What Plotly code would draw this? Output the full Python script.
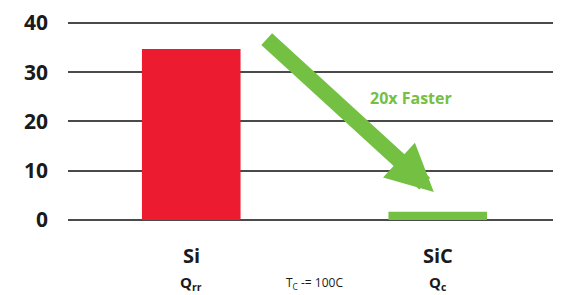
import plotly.graph_objects as go

categories = ["Si", "SiC"]
charge_values = [34.7, 1.7]
bar_colors = ["#ED1B2F", "#74C043"]
y_ticks = [0, 10, 20, 30, 40]
sub_labels = ["Q<sub>rr</sub>", "Q<sub>c</sub>"]
condition_label = "T<sub>C</sub> -= 100C"
arrow_label = "20x Faster"

FONT = "Open Sans"
DARK = "#1a1a1a"
GREEN = "#74C043"

fig = go.Figure()
fig.add_trace(go.Bar(
    x=categories, y=charge_values, marker=dict(color=bar_colors, line=dict(width=0)),
    width=0.4, showlegend=False, hoverinfo="skip",
))

annotations = []
for cat, sub in zip(categories, sub_labels):
    annotations.append(dict(x=cat, y=0, xref="x", yref="y", text=f"<b>{cat}</b>",
                            showarrow=False, yanchor="middle", yshift=-35,
                            font=dict(family=FONT, size=20, color=DARK)))
    annotations.append(dict(x=cat, y=0, xref="x", yref="y", text=f"<b>{sub}</b>",
                            showarrow=False, yanchor="middle", yshift=-63,
                            font=dict(family=FONT, size=15, color=DARK)))
annotations.append(dict(x=0.5, y=0, xref="x", yref="y", text=condition_label,
                        showarrow=False, yanchor="middle", yshift=-63,
                        font=dict(family=FONT, size=12, color=DARK)))
# arrow
annotations.append(dict(x=0.984, y=5.7, xref="x", yref="y",
                        ax=0.3, ay=37, axref="x", ayref="y",
                        text="", showarrow=True, arrowhead=2, arrowsize=0.59,
                        arrowwidth=16, arrowcolor=GREEN, standoff=0, startstandoff=0))
annotations.append(dict(x=0.89, y=24.8, xref="x", yref="y", text=f"<b>{arrow_label}</b>",
                        showarrow=False, font=dict(family=FONT, size=16, color=GREEN)))

fig.update_layout(
    width=553, height=287,
    margin=dict(l=60, r=0, t=10, b=75),
    paper_bgcolor="white", plot_bgcolor="white",
    bargap=0.6,
    annotations=annotations,
    xaxis=dict(type="category", range=[-0.5, 1.5], showticklabels=False, showgrid=False,
               zeroline=False, showline=False, ticks=""),
    yaxis=dict(range=[0, 40.4], tickvals=y_ticks, ticktext=[f"<b>{v}</b>" for v in y_ticks],
               showgrid=True, gridcolor="#4a4a4a", gridwidth=1.5,
               zeroline=True, zerolinecolor="#4a4a4a", zerolinewidth=1.5,
               showline=False, ticks="", ticklabelstandoff=19, ticklabeloverflow="allow",
               tickfont=dict(family=FONT, size=21, color=DARK)),
    font=dict(family=FONT, color=DARK),
)

fig.write_html("out.html")
